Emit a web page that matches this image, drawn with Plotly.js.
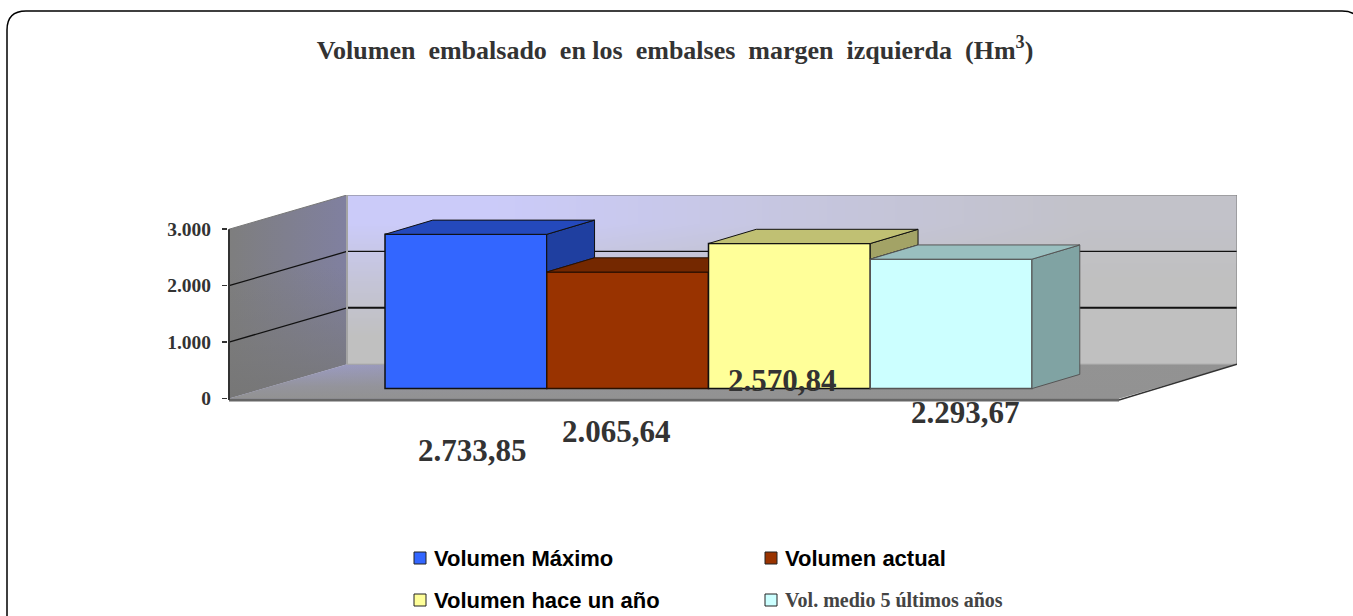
<!DOCTYPE html>
<html>
<head>
<meta charset="utf-8">
<script src="https://cdn.plot.ly/plotly-3.0.1.min.js"></script>
<style>html,body{margin:0;padding:0;background:#fff}#chart{width:1353px;height:616px}</style>
</head>
<body>
<div id="chart"></div>
<script>
// ---- data ----
const seriesNames = ['Volumen Máximo', 'Volumen actual', 'Volumen hace un año', 'Vol. medio 5 últimos años'];
const seriesValues = [2733.85, 2065.64, 2570.84, 2293.67];
const axisTicks = [0, 1000, 2000, 3000];
const gridLevels = [1000, 2000];

// ---- styles ----
const frontColors = ['#3366FF', '#993300', '#FFFF99', '#CCFFFF'];
const topColors = ['#2449BC', '#742800', '#C0C073', '#99BFBF'];
const sideColors = ['#1F3FA0', '#5F2000', '#A3A366', '#80A3A3'];
const edgeColors = ['#111111', '#2a1000', '#111111', '#555555'];
const gridWidths = [2, 1.2];
const wallShade = [[1, 1, 1], [0.62, 0.9, 1], [0.1, 0.5, 0.86]];

// ---- oblique projection, in axis units ----
const W = 1353, H = 616;
const axisL = 229, plotL = 228, plotR = 1237, plotT = 195, zeroY = 398.5, plotB = 403;
const unitPx = 161.75;                      // one category
const valPx = 0.05642;                      // pixels per unit of value
const xAt = p => -0.5 + (p - 385) / unitPx;
const xMin = xAt(axisL), xLo = xAt(plotL), xMax = xAt(plotR);
const yLo = -(plotB - zeroY) / valPx, yMax = (zeroY - plotT) / valPx;
const depthX = 118 / unitPx, depthY = 607;  // full floor depth
const barBase = 0.29 * depthY;
const barDx = 0.405 * depthX, barDy = 0.415 * depthY;
const px = x => (x - plotL) / (plotR - plotL), py = y => (plotB - y) / (plotB - plotT);

const traces = [];
const poly = (xs, ys, fill, extra) => traces.push(Object.assign({
  type: 'scatter', mode: 'lines', x: xs, y: ys, fill: 'toself', fillcolor: fill,
  line: {width: 0}, hoverinfo: 'skip', showlegend: false
}, extra || {}));
const line = (xs, ys, color, width, extra) => traces.push(Object.assign({
  type: 'scatter', mode: 'lines', x: xs, y: ys, line: {color, width},
  hoverinfo: 'skip', showlegend: false
}, extra || {}));

const backL = xMin + depthX, backR = xMax, topV = 3000 + depthY;
const cols = [backL, backL + (backR - backL) / 3, backL + 2 * (backR - backL) / 3, backR];
const rows = [depthY, depthY + 1000, depthY + 2000, topV];

// back wall
traces.push({type: 'heatmap', x: cols, y: rows, z: wallShade, zsmooth: 'best', zmin: 0, zmax: 1,
  colorscale: [[0, '#CCCCFF'], [1, '#C0C0C0']], showscale: false, hoverinfo: 'skip'});
// side wall
poly([xMin, backL, backL, xMin, xMin], [0, depthY, topV, 3000, 0], '#7f7f7f',
  {fillgradient: {type: 'horizontal', colorscale: [[0, '#7E7E7E'], [1, '#8080A0']]}});
poly([xMin, backL, backL, xMin, xMin], [0, depthY, topV, 3000, 0], 'rgba(120,120,120,0)',
  {fillgradient: {type: 'vertical', colorscale: [[0, 'rgba(118,118,118,0.95)'], [0.65, 'rgba(120,120,120,0)'], [1, 'rgba(120,120,120,0)']]}});
// floor
poly([xMin, backL, backR, xMax - depthX, xMin], [0, depthY, depthY, 0, 0], '#939393',
  {fillgradient: {type: 'horizontal', colorscale: [[0, '#9C9CCB'], [0.55, '#949494'], [1, '#929292']]}});
poly([xMin, backL, backR, xMax - depthX, xMin], [0, depthY, depthY, 0, 0], 'rgba(146,146,146,0)',
  {fillgradient: {type: 'vertical', colorscale: [[0, 'rgba(146,146,146,1)'], [0.35, 'rgba(146,146,146,0.8)'], [1, 'rgba(146,146,146,0)']]}});
// wall grid lines
gridLevels.forEach((g, i) => {
  line([xMin, backL], [g, g + depthY], '#111111', 1.3);
  line([backL, backR], [g + depthY, g + depthY], '#111111', gridWidths[i]);
});
// wall and floor edges
line([backL, backR, backR], [topV, topV, depthY], '#7a7a7a', 1);
line([xMin, backL], [3000, topV], '#777777', 1);
line([backL, backL], [depthY, topV], '#a4a4a4', 2);
line([backL, backR], [depthY, depthY], '#a0a0a0', 1);
line([xMax - depthX, backR], [-25, depthY], '#333333', 1.5);
line([xMin, xMax - depthX], [-25, -25], '#666666', 3);
line([xMin, xMin], [-25, 3000], '#333333', 2);

// columns: bar trace for the front, projected faces for top and side
seriesValues.forEach((v, i) => {
  const l = i - 0.5, r = i + 0.5, t = barBase + v;
  const next = i + 1 < seriesValues.length ? barBase + seriesValues[i + 1] : barBase;
  const ax = {xaxis: 'x2', yaxis: 'y2'};
  const edge = {color: edgeColors[i], width: 1};
  traces.push(Object.assign({type: 'bar', name: seriesNames[i], x: [i], y: [v], base: [barBase], width: [1],
    marker: {color: frontColors[i], line: {color: edgeColors[i], width: 1.5}}, hoverinfo: 'skip', showlegend: false}, ax));
  if (next < t + barDy) {
    const low = Math.max(next, barBase);
    poly([r, r + barDx, r + barDx, r, r], [t, t + barDy, low + barDy, low, t], sideColors[i],
      Object.assign({line: edge}, ax));
  }
  const clip = next >= t + barDy;
  poly(clip ? [l, r, r, l + barDx, l] : [l, r, r + barDx, l + barDx, l],
       [t, t, t + barDy, t + barDy, t], topColors[i], Object.assign({line: edge}, ax));
});

// ---- text ----
const fmt = v => { const [a, b] = v.toFixed(2).split('.'); return a[0] + '.' + a.slice(1) + ',' + b; };
const labelCenters = [[472, 450], [616, 431], [782, 380], [965, 412]];
const serif = 'Liberation Serif', sans = 'Liberation Sans';
const annotations = seriesValues.map((v, i) => ({
  xref: 'paper', yref: 'paper', x: px(labelCenters[i][0]), y: py(labelCenters[i][1]),
  xanchor: 'center', yanchor: 'middle', showarrow: false, text: '<b>' + fmt(v) + '</b>',
  font: {family: serif, size: 31, color: '#333333'}
}));

const legendCells = [[414, 558], [765, 558], [414, 600], [765, 600]];
const legendFonts = [
  {family: sans, size: 22, color: '#000000'}, {family: sans, size: 22, color: '#000000'},
  {family: sans, size: 22, color: '#000000'}, {family: serif, size: 20, color: '#444444'}
];
const shapes = [{
  type: 'path', xref: 'paper', yref: 'paper', layer: 'below',
  line: {color: '#000000', width: 1.5}, fillcolor: 'rgba(0,0,0,0)',
  path: `M ${px(7)} ${py(660)} L ${px(7)} ${py(30)} Q ${px(7)} ${py(11)} ${px(26)} ${py(11)} ` +
        `L ${px(1342)} ${py(11)} Q ${px(1361)} ${py(11)} ${px(1361)} ${py(30)} L ${px(1361)} ${py(660)}`
}];
seriesNames.forEach((n, i) => {
  const [cx, cy] = legendCells[i];
  shapes.push({type: 'rect', xref: 'paper', yref: 'paper', layer: 'above',
    x0: px(cx), x1: px(cx + 12), y0: py(cy - 6), y1: py(cy + 6),
    fillcolor: frontColors[i], line: {color: '#222222', width: 1}});
  annotations.push({xref: 'paper', yref: 'paper', x: px(cx + 18), y: py(cy), xanchor: 'left', yanchor: 'middle',
    showarrow: false, text: '<b>' + n + '</b>', font: legendFonts[i]});
});

const layout = {
  width: W, height: H, showlegend: false, paper_bgcolor: '#ffffff', plot_bgcolor: 'rgba(0,0,0,0)',
  hovermode: false, barmode: 'overlay', separators: ',.',
  margin: {l: plotL, r: W - plotR, t: plotT, b: H - plotB, pad: 0},
  title: {text: '<b>Volumen  embalsado  en los  embalses  margen  izquierda  (Hm<sup>3</sup>)</b>',
    x: 675 / W, xanchor: 'center', y: 1 - 50 / H, yanchor: 'middle', yref: 'container',
    font: {family: serif, size: 26, color: '#333333'}},
  xaxis: {range: [xLo, xMax], visible: false, fixedrange: true},
  yaxis: {range: [yLo, yMax], tickmode: 'array', tickvals: axisTicks, tickformat: ',d',
    ticks: 'outside', ticklen: 5, tickwidth: 1.5, tickcolor: '#333333', ticklabelstandoff: 7,
    showgrid: false, zeroline: false, showline: false, fixedrange: true,
    tickfont: {family: serif, size: 19.5, weight: 'bold', color: '#333333'}},
  xaxis2: {range: [xLo, xMax], overlaying: 'x', anchor: 'y2', visible: false, fixedrange: true},
  yaxis2: {range: [yLo, yMax], overlaying: 'y', anchor: 'x2', visible: false, fixedrange: true},
  annotations, shapes
};
Plotly.newPlot('chart', traces, layout, {displayModeBar: false, staticPlot: true});
</script>
</body>
</html>
